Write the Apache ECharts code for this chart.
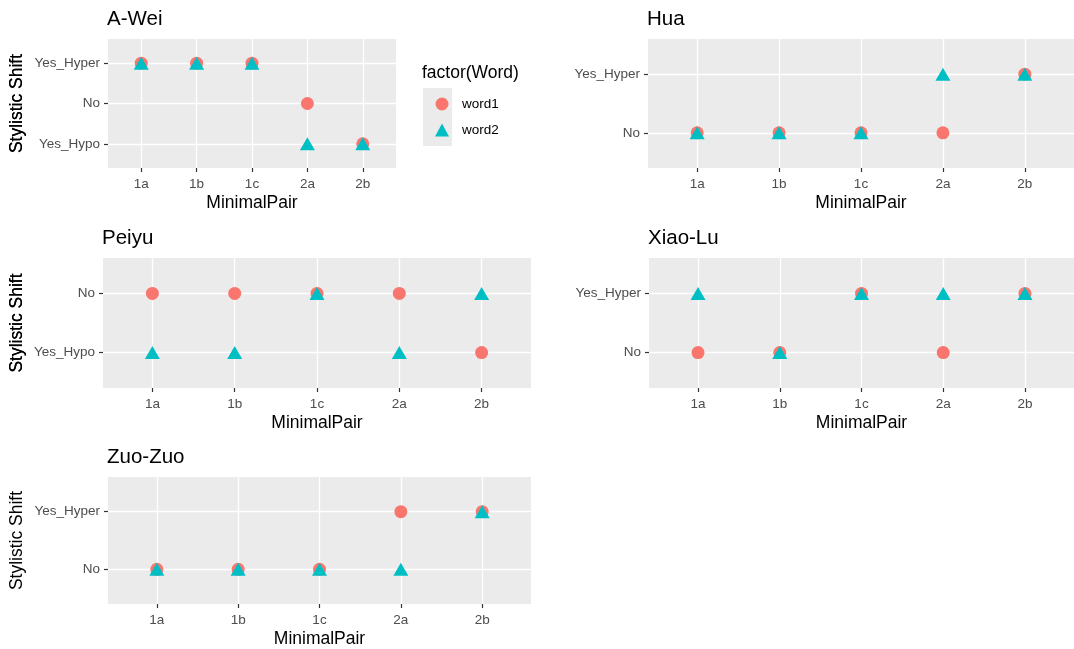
<!DOCTYPE html>
<html><head><meta charset="utf-8">
<script src="https://cdn.jsdelivr.net/npm/echarts@6/dist/echarts.min.js"></script>
<style>html,body{margin:0;padding:0;background:#fff}#c{width:1074px;height:649px}</style>
</head><body><div id="c"></div>
<script>
// ---- data ----
const pairs = ['1a', '1b', '1c', '2a', '2b'];
const speakers = ['A-Wei', 'Hua', 'Peiyu', 'Xiao-Lu', 'Zuo-Zuo'];
const wordNames = ['word1', 'word2'];
const levelsAWei = ['Yes_Hypo', 'No', 'Yes_Hyper'];
const levelsHua = ['No', 'Yes_Hyper'];
const levelsPeiyu = ['Yes_Hypo', 'No'];
const levelsXiaoLu = ['No', 'Yes_Hyper'];
const levelsZuoZuo = ['No', 'Yes_Hyper'];
const aweiWord1 = ['Yes_Hyper', 'Yes_Hyper', 'Yes_Hyper', 'No', 'Yes_Hypo'];
const aweiWord2 = ['Yes_Hyper', 'Yes_Hyper', 'Yes_Hyper', 'Yes_Hypo', 'Yes_Hypo'];
const huaWord1 = ['No', 'No', 'No', 'No', 'Yes_Hyper'];
const huaWord2 = ['No', 'No', 'No', 'Yes_Hyper', 'Yes_Hyper'];
const peiyuWord1 = ['No', 'No', 'No', 'No', 'Yes_Hypo'];
const peiyuWord2 = ['Yes_Hypo', 'Yes_Hypo', 'No', 'Yes_Hypo', 'No'];
const xiaoluWord1 = ['No', 'No', 'Yes_Hyper', 'No', 'Yes_Hyper'];
const xiaoluWord2 = ['Yes_Hyper', 'No', 'Yes_Hyper', 'Yes_Hyper', 'Yes_Hyper'];
const zuozuoWord1 = ['No', 'No', 'No', 'Yes_Hyper', 'Yes_Hyper'];
const zuozuoWord2 = ['No', 'No', 'No', 'No', 'Yes_Hyper'];

const panelLevels = [levelsAWei, levelsHua, levelsPeiyu, levelsXiaoLu, levelsZuoZuo];
const panelWord1 = [aweiWord1, huaWord1, peiyuWord1, xiaoluWord1, zuozuoWord1];
const panelWord2 = [aweiWord2, huaWord2, peiyuWord2, xiaoluWord2, zuozuoWord2];

// ---- layout ----
const layout = [
  {left: 108, top: 39, width: 288, height: 129},
  {left: 648, top: 39, width: 426, height: 129},
  {left: 103, top: 258, width: 428, height: 130},
  {left: 649, top: 258, width: 425, height: 130},
  {left: 108, top: 477, width: 423, height: 130}
];
const FONT = 'Liberation Sans';
const C1 = '#F8766D', C2 = '#00BFC4';

const grids = [], xAxes = [], yAxes = [], series = [], titles = [];
speakers.forEach((sp, p) => {
  const L = layout[p];
  const levels = panelLevels[p];
  grids.push({left: L.left, top: L.top, width: L.width, height: L.height,
    show: true, backgroundColor: '#EBEBEB', borderWidth: 0, containLabel: false});
  titles.push({text: sp, left: L.left - 1, top: L.top - 30, padding: 0,
    textStyle: {fontFamily: FONT, fontSize: 20.5, fontWeight: 'normal', color: '#000'}});
  const xIdx = pairs.map((_, i) => i);
  const yIdx = levels.map((_, j) => j);
  const tick = {show: true, customValues: null, length: 4, lineStyle: {color: '#333333', width: 1.2}};
  const hiddenLine = {show: true, onZero: false, lineStyle: {color: 'rgba(0,0,0,0)', width: 0}};
  xAxes.push({gridIndex: p, type: 'value', min: -0.6, max: pairs.length - 0.4,
    axisLine: hiddenLine, splitLine: {show: false},
    axisTick: Object.assign({}, tick, {customValues: xIdx}),
    axisLabel: {customValues: xIdx, formatter: v => pairs[Math.round(v)], margin: 9,
      color: '#4D4D4D', fontFamily: FONT, fontSize: 13.5},
    name: 'MinimalPair', nameLocation: 'middle', nameGap: 26,
    nameTextStyle: {fontFamily: FONT, fontSize: 17.5, color: '#000'}});
  yAxes.push({gridIndex: p, type: 'value', min: -0.6, max: levels.length - 0.4,
    axisLine: hiddenLine, splitLine: {show: false},
    axisTick: Object.assign({}, tick, {customValues: yIdx}),
    axisLabel: {customValues: yIdx, formatter: v => levels[Math.round(v)], margin: 8,
      color: '#4D4D4D', fontFamily: FONT, fontSize: 13.5},
    name: 'Stylistic Shift', nameLocation: 'middle', nameRotate: 90, nameGap: L.left - 26,
    nameTextStyle: {fontFamily: FONT, fontSize: 17.5, color: '#000'}});
  // panel grid lines (white), drawn under the points
  series.push({type: 'scatter', xAxisIndex: p, yAxisIndex: p, data: [], z: 1, silent: true,
    markLine: {silent: true, z: 1, symbol: 'none', animation: false, label: {show: false},
      lineStyle: {color: '#FFFFFF', width: 1.3, type: 'solid'},
      data: xIdx.map(i => ({xAxis: i})).concat(yIdx.map(j => ({yAxis: j})))}});
  series.push({type: 'scatter', name: wordNames[0], xAxisIndex: p, yAxisIndex: p, z: 3,
    symbol: 'circle', symbolSize: 13, itemStyle: {color: C1, opacity: 1},
    data: panelWord1[p].map((v, i) => [i, levels.indexOf(v)])});
  series.push({type: 'scatter', name: wordNames[1], xAxisIndex: p, yAxisIndex: p, z: 4,
    symbol: 'triangle', symbolSize: [15, 13], itemStyle: {color: C2, opacity: 1},
    data: panelWord2[p].map((v, i) => [i, levels.indexOf(v)])});
});
titles.push({text: 'factor(Word)', left: 422, top: 64, padding: 0,
  textStyle: {fontFamily: FONT, fontSize: 17.5, fontWeight: 'normal', color: '#000'}});

const chart = echarts.init(document.getElementById('c'), null, {renderer: 'canvas'});
chart.setOption({
  animation: false,
  backgroundColor: '#fff',
  title: titles,
  grid: grids, xAxis: xAxes, yAxis: yAxes, series: series,
  legend: {orient: 'vertical', left: 430, top: 92, itemWidth: 14, itemHeight: 13, itemGap: 12,
    selectedMode: false,
    data: [{name: 'word1', icon: 'circle'}, {name: 'word2', icon: 'triangle'}],
    textStyle: {fontFamily: FONT, fontSize: 13.5, color: '#000', padding: [0, 0, 0, 8]}},
  graphic: [{type: 'rect', left: 423, top: 88, z: -1, shape: {width: 29, height: 58},
    style: {fill: '#EBEBEB'}, silent: true}]
});
</script></body></html>
